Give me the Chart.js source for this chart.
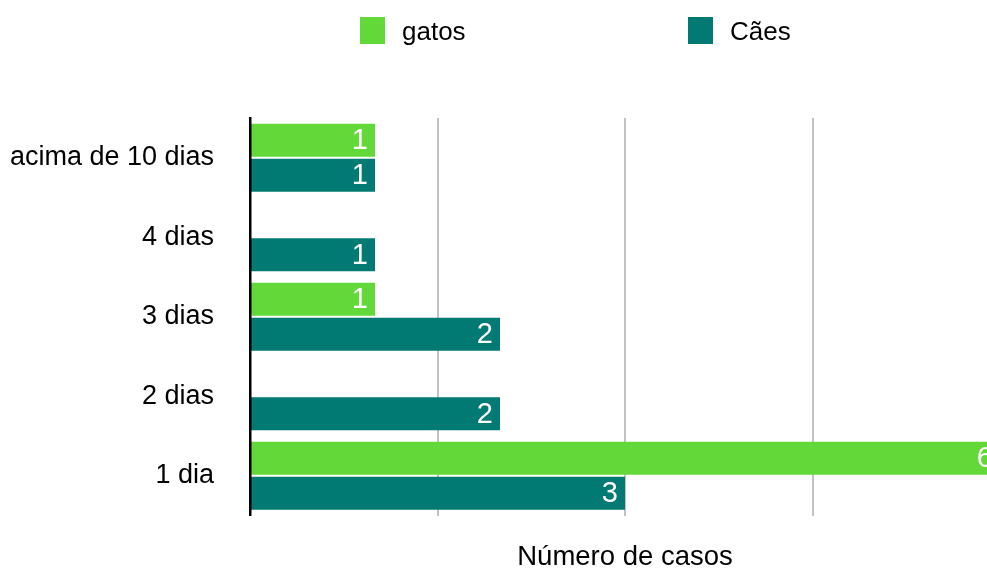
<!DOCTYPE html>
<html>
<head>
<meta charset="utf-8">
<script src="https://cdn.jsdelivr.net/npm/chart.js@4.4.1/dist/chart.umd.min.js"></script>
<style>
    html, body { margin: 0; padding: 0; background: #fff; overflow: hidden; }
    #caja { width: 987px; height: 571px; overflow: hidden; }
</style>
</head>
<body>
<div id="caja"><canvas id="g_dias" width="1001" height="571"></canvas></div>
<script>
let categorias = ["acima de 10 dias", "4 dias", "3 dias", "2 dias", "1 dia"];
let gatos = [1, 0, 1, 0, 6];
let caes = [1, 1, 2, 2, 3];
let lineas_x = [0, 1.5, 3, 4.5];
let maximo_x = 6;

let fuente = "'Liberation Sans', Arial, sans-serif";
let verde = "#62d938";
let verde_oscuro = "#007a72";

Chart.defaults.font.family = fuente;

// numero blanco dentro del final de cada barra
const valores_barras = {
    id: 'valores_barras',
    afterDatasetsDraw(chart){
        let ctx = chart.ctx;
        ctx.save();
        ctx.font = "29px " + fuente;
        ctx.fillStyle = "#fff";
        ctx.textAlign = "right";
        ctx.textBaseline = "middle";
        chart.data.datasets.forEach((ds, i) => {
            chart.getDatasetMeta(i).data.forEach((barra, j) => {
                if(!ds.data[j]) return;
                ctx.fillText(ds.data[j], barra.x - 7, barra.y + 1);
            });
        });
        ctx.restore();
    }
};

// leyenda arriba con mucho espacio entre series
const leyenda = {
    id: 'leyenda',
    afterDraw(chart){
        let ctx = chart.ctx;
        ctx.save();
        ctx.font = "26px " + fuente;
        ctx.textBaseline = "middle";
        chart.data.datasets.forEach((ds, i) => {
            let x = 360 + i * 328;
            ctx.fillStyle = ds.backgroundColor;
            ctx.fillRect(x, 17, 25, 27);
            ctx.fillStyle = "#000";
            ctx.fillText(ds.label, x + 42, 33);
        });
        ctx.restore();
    }
};

let ctx = document.getElementById("g_dias").getContext('2d');
let g_dias = new Chart(ctx, {
    type: 'bar',
    data: {
        labels: categorias,
        datasets: [
            {
                label: 'gatos',
                data: gatos,
                backgroundColor: verde
            },
            {
                label: 'Cães',
                data: caes,
                backgroundColor: verde_oscuro
            }
        ]
    },
    options: {
        indexAxis: 'y',
        responsive: false,
        animation: false,
        barPercentage: 0.94,
        categoryPercentage: 0.88,
        layout: {
            padding: { top: 118, right: 1, bottom: 0, left: 0 }
        },
        plugins: {
            legend: { display: false },
            tooltip: { enabled: false }
        },
        scales: {
            x: {
                min: 0,
                max: maximo_x,
                afterBuildTicks: function(eje){
                    eje.ticks = lineas_x.map(v => ({ value: v }));
                },
                ticks: { display: false },
                grid: {
                    color: function(c){
                        return c.tick && c.tick.value === 0 ? 'rgba(0,0,0,0)' : '#c2c2c2';
                    },
                    lineWidth: 2,
                    drawTicks: false
                },
                border: { display: false },
                title: {
                    display: true,
                    text: 'Número de casos',
                    color: '#000',
                    font: { size: 27.5, lineHeight: 1 },
                    padding: { top: 28, bottom: 0 }
                }
            },
            y: {
                afterFit: function(eje){
                    eje.width = 250;
                },
                ticks: {
                    color: '#000',
                    font: { size: 27 },
                    padding: 36
                },
                grid: { display: false, drawTicks: false },
                border: { display: true, color: '#000', width: 2.5, z: 1 }
            }
        }
    },
    plugins: [valores_barras, leyenda]
});
</script>
</body>
</html>
